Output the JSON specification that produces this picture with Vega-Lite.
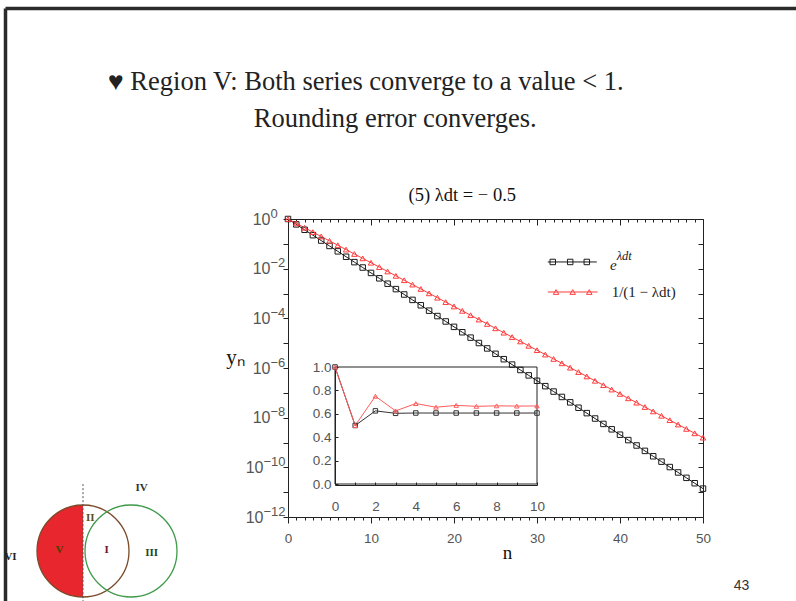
{
  "$schema": "https://vega.github.io/schema/vega-lite/v6.json",
  "width": 415,
  "height": 298,
  "autosize": {"type": "none"},
  "padding": {"left": 288, "top": 219, "right": 93, "bottom": 84},
  "background": "white",
  "config": {
    "view": {"stroke": null},
    "axis": {"grid": false, "labelFont": "Liberation Sans", "labelColor": "#555", "labelFontSize": 13.5, "domainColor": "#222", "tickColor": "#222", "domainWidth": 1, "tickWidth": 1}
  },
  "title": {
    "text": "♥ Region V: Both series converge to a value < 1.",
    "subtitle": "\u200b\u00a0\u00a0\u00a0\u00a0\u00a0\u00a0\u00a0\u00a0\u00a0\u00a0\u00a0\u00a0\u00a0\u00a0\u00a0\u00a0\u00a0\u00a0\u00a0\u00a0\u00a0\u00a0Rounding error converges.",
    "anchor": "start",
    "frame": "group",
    "dx": -180,
    "offset": -127,
    "font": "Liberation Serif",
    "fontSize": 26.5,
    "fontWeight": "normal",
    "color": "#222",
    "subtitleFont": "Liberation Serif",
    "subtitleFontSize": 26.5,
    "subtitleColor": "#222",
    "subtitlePadding": 10
  },
  "datasets": {
    "main": [
      {"n":0,"s":"exp","y":1},{"n":1,"s":"exp","y":0.60653},{"n":2,"s":"exp","y":0.36788},{"n":3,"s":"exp","y":0.22313},{"n":4,"s":"exp","y":0.13534},
      {"n":5,"s":"exp","y":0.082085},{"n":6,"s":"exp","y":0.049787},{"n":7,"s":"exp","y":0.030197},{"n":8,"s":"exp","y":0.018316},{"n":9,"s":"exp","y":0.011109},
      {"n":10,"s":"exp","y":0.0067379},{"n":11,"s":"exp","y":0.0040868},{"n":12,"s":"exp","y":0.0024788},{"n":13,"s":"exp","y":0.0015034},{"n":14,"s":"exp","y":0.00091188},
      {"n":15,"s":"exp","y":0.00055308},{"n":16,"s":"exp","y":0.00033546},{"n":17,"s":"exp","y":0.00020347},{"n":18,"s":"exp","y":0.00012341},{"n":19,"s":"exp","y":7.4852e-5},
      {"n":20,"s":"exp","y":4.54e-5},{"n":21,"s":"exp","y":2.7536e-5},{"n":22,"s":"exp","y":1.6702e-5},{"n":23,"s":"exp","y":1.013e-5},{"n":24,"s":"exp","y":6.1442e-6},
      {"n":25,"s":"exp","y":3.7267e-6},{"n":26,"s":"exp","y":2.2603e-6},{"n":27,"s":"exp","y":1.371e-6},{"n":28,"s":"exp","y":8.3153e-7},{"n":29,"s":"exp","y":5.0435e-7},
      {"n":30,"s":"exp","y":3.059e-7},{"n":31,"s":"exp","y":1.8554e-7},{"n":32,"s":"exp","y":1.1254e-7},{"n":33,"s":"exp","y":6.8256e-8},{"n":34,"s":"exp","y":4.1399e-8},
      {"n":35,"s":"exp","y":2.511e-8},{"n":36,"s":"exp","y":1.523e-8},{"n":37,"s":"exp","y":9.2374e-9},{"n":38,"s":"exp","y":5.6028e-9},{"n":39,"s":"exp","y":3.3983e-9},
      {"n":40,"s":"exp","y":2.0612e-9},{"n":41,"s":"exp","y":1.2502e-9},{"n":42,"s":"exp","y":7.5826e-10},{"n":43,"s":"exp","y":4.5991e-10},{"n":44,"s":"exp","y":2.7895e-10},
      {"n":45,"s":"exp","y":1.6919e-10},{"n":46,"s":"exp","y":1.0262e-10},{"n":47,"s":"exp","y":6.2241e-11},{"n":48,"s":"exp","y":3.7751e-11},{"n":49,"s":"exp","y":2.2897e-11},
      {"n":50,"s":"exp","y":1.3888e-11},
      {"n":0,"s":"imp","y":1},{"n":1,"s":"imp","y":0.66667},{"n":2,"s":"imp","y":0.44444},{"n":3,"s":"imp","y":0.2963},{"n":4,"s":"imp","y":0.19753},
      {"n":5,"s":"imp","y":0.13169},{"n":6,"s":"imp","y":0.087791},{"n":7,"s":"imp","y":0.058528},{"n":8,"s":"imp","y":0.039018},{"n":9,"s":"imp","y":0.026012},
      {"n":10,"s":"imp","y":0.017342},{"n":11,"s":"imp","y":0.011561},{"n":12,"s":"imp","y":0.0077073},{"n":13,"s":"imp","y":0.0051382},{"n":14,"s":"imp","y":0.0034255},
      {"n":15,"s":"imp","y":0.0022837},{"n":16,"s":"imp","y":0.0015224},{"n":17,"s":"imp","y":0.001015},{"n":18,"s":"imp","y":0.00067664},{"n":19,"s":"imp","y":0.00045109},
      {"n":20,"s":"imp","y":0.00030073},{"n":21,"s":"imp","y":0.00020049},{"n":22,"s":"imp","y":0.00013366},{"n":23,"s":"imp","y":8.9105e-5},{"n":24,"s":"imp","y":5.9403e-5},
      {"n":25,"s":"imp","y":3.9602e-5},{"n":26,"s":"imp","y":2.6401e-5},{"n":27,"s":"imp","y":1.7601e-5},{"n":28,"s":"imp","y":1.1734e-5},{"n":29,"s":"imp","y":7.8225e-6},
      {"n":30,"s":"imp","y":5.215e-6},{"n":31,"s":"imp","y":3.4767e-6},{"n":32,"s":"imp","y":2.3178e-6},{"n":33,"s":"imp","y":1.5452e-6},{"n":34,"s":"imp","y":1.0301e-6},
      {"n":35,"s":"imp","y":6.8676e-7},{"n":36,"s":"imp","y":4.5784e-7},{"n":37,"s":"imp","y":3.0523e-7},{"n":38,"s":"imp","y":2.0349e-7},{"n":39,"s":"imp","y":1.3566e-7},
      {"n":40,"s":"imp","y":9.0438e-8},{"n":41,"s":"imp","y":6.0292e-8},{"n":42,"s":"imp","y":4.0195e-8},{"n":43,"s":"imp","y":2.6797e-8},{"n":44,"s":"imp","y":1.7864e-8},
      {"n":45,"s":"imp","y":1.191e-8},{"n":46,"s":"imp","y":7.9397e-9},{"n":47,"s":"imp","y":5.2931e-9},{"n":48,"s":"imp","y":3.5288e-9},{"n":49,"s":"imp","y":2.3525e-9},
      {"n":50,"s":"imp","y":1.5683e-9}
    ],
    "inset": [
      {"n":0,"s":"exp","r":1},{"n":1,"s":"exp","r":0.5},{"n":2,"s":"exp","r":0.625},{"n":3,"s":"exp","r":0.604167},{"n":4,"s":"exp","r":0.606771},
      {"n":5,"s":"exp","r":0.60651},{"n":6,"s":"exp","r":0.606532},{"n":7,"s":"exp","r":0.606531},{"n":8,"s":"exp","r":0.606531},{"n":9,"s":"exp","r":0.606531},
      {"n":10,"s":"exp","r":0.606531},
      {"n":0,"s":"imp","r":1},{"n":1,"s":"imp","r":0.5},{"n":2,"s":"imp","r":0.75},{"n":3,"s":"imp","r":0.625},{"n":4,"s":"imp","r":0.6875},
      {"n":5,"s":"imp","r":0.65625},{"n":6,"s":"imp","r":0.671875},{"n":7,"s":"imp","r":0.664063},{"n":8,"s":"imp","r":0.667969},{"n":9,"s":"imp","r":0.666016},
      {"n":10,"s":"imp","r":0.666992}
    ],
    "regions": [
      {"t":"IV","re":1.22,"im":1.44},{"t":"II","re":0.15,"im":0.75},{"t":"V","re":-0.49,"im":0.02},
      {"t":"I","re":0.49,"im":0.02},{"t":"III","re":1.43,"im":-0.04},{"t":"VI","re":-1.51,"im":-0.13}
    ]
  },
  "resolve": {
    "scale": {"x": "independent", "y": "independent", "color": "independent", "shape": "independent", "size": "independent", "stroke": "independent"},
    "axis": {"x": "independent", "y": "independent"}
  },
  "layer": [
    {
      "data": {"values": [{"v": 0}, {"v": 1}]},
      "mark": {"type": "point", "opacity": 0},
      "encoding": {
        "x": {"field": "v", "type": "quantitative", "scale": {"domain": [0, 1], "range": [-283, 508], "nice": false, "zero": false},
          "axis": {"orient": "top", "offset": 211, "domainColor": "#2b2b2b", "domainWidth": 3.5, "ticks": false, "labels": false, "title": null}},
        "y": {"field": "v", "type": "quantitative", "scale": {"domain": [0, 1], "range": [-211, 382], "nice": false, "zero": false},
          "axis": {"orient": "left", "offset": 283, "domainColor": "#2b2b2b", "domainWidth": 3.5, "ticks": false, "labels": false,
            "title": "43", "titleAngle": 0, "titleX": 736, "titleY": 366, "titleFont": "Liberation Sans", "titleFontSize": 14, "titleFontWeight": "normal", "titleColor": "#333", "titleAlign": "center", "titleBaseline": "middle"}}
      }
    },
    {
      "layer": [
        {
          "data": {"values": [{"re": 0, "im": 0, "r": 1}]},
          "mark": {"type": "point", "shape": "M0,-1A1,1,0,0,0,0,1Z", "filled": true, "color": "#e8262d", "opacity": 1, "strokeWidth": 0},
          "encoding": {
            "x": {"field": "re", "type": "quantitative", "scale": {"domain": [0, 1], "range": [-205, -157], "nice": false, "zero": false}, "axis": null},
            "y": {"field": "im", "type": "quantitative", "scale": {"domain": [0, 1], "range": [332, 288], "nice": false, "zero": false}, "axis": null},
            "size": {"field": "r", "type": "quantitative", "scale": {"type": "pow", "exponent": 2, "domain": [0, 1], "range": [0, 8464]}, "legend": null}
          }
        },
        {
          "data": {"values": [{"re": 0, "im": 0, "r": 1, "c": "left"}, {"re": 1, "im": 0, "r": 1, "c": "right"}]},
          "mark": {"type": "point", "shape": "circle", "filled": false, "opacity": 1, "strokeWidth": 1.3},
          "encoding": {
            "x": {"field": "re", "type": "quantitative", "axis": null},
            "y": {"field": "im", "type": "quantitative", "axis": null},
            "size": {"field": "r", "type": "quantitative", "legend": null},
            "stroke": {"field": "c", "type": "nominal", "scale": {"domain": ["left", "right"], "range": ["#7a4a2a", "#3f9a4a"]}, "legend": null}
          }
        },
        {
          "data": {"values": [{}]},
          "mark": {"type": "rule", "color": "#555", "strokeWidth": 1, "strokeDash": [2, 2]},
          "encoding": {
            "x": {"datum": 0, "type": "quantitative", "axis": null},
            "y": {"datum": 1.52, "type": "quantitative", "axis": null},
            "y2": {"datum": -1.14}
          }
        },
        {
          "data": {"name": "regions"},
          "mark": {"type": "text", "font": "Liberation Serif", "fontSize": 11, "fontWeight": "bold", "align": "center", "baseline": "middle"},
          "encoding": {
            "x": {"field": "re", "type": "quantitative", "axis": null},
            "y": {"field": "im", "type": "quantitative", "axis": null},
            "text": {"field": "t"},
            "color": {"field": "t", "type": "nominal", "scale": {"domain": ["IV", "II", "V", "I", "III", "VI"], "range": ["#333333", "#5a5010", "#4a4000", "#6a1a2a", "#1a4a1a", "#222222"]}, "legend": null}
          }
        }
      ]
    },
    {
      "layer": [
        {
          "data": {"values": [{}]},
          "mark": {"type": "rect", "fillOpacity": 0, "stroke": "#222", "strokeWidth": 1},
          "encoding": {
            "x": {"datum": 0, "type": "quantitative", "scale": {"domain": [0, 10], "range": [47, 249], "nice": false, "zero": false},
              "axis": {"orient": "bottom", "offset": -32, "values": [0,1,2,3,4,5,6,7,8,9,10], "tickSize": -3, "labelExpr": "datum.value % 2 === 0 ? datum.label : ''", "labelPadding": 17, "labelOverlap": false, "labelFlush": false, "title": null}},
            "x2": {"datum": 10},
            "y": {"datum": 0, "type": "quantitative", "scale": {"domain": [0, 1], "range": [265, 148], "nice": false, "zero": false},
              "axis": {"orient": "left", "offset": -47, "values": [0,0.1,0.2,0.3,0.4,0.5,0.6,0.7,0.8,0.9,1], "tickSize": -3, "labelExpr": "round(datum.value*10) % 2 === 0 ? format(datum.value, '.1f') : ''", "labelPadding": 7, "labelOverlap": false, "labelFlush": false, "title": null}},
            "y2": {"datum": 1}
          }
        },
        {
          "data": {"name": "inset"},
          "mark": {"type": "line", "strokeWidth": 1},
          "encoding": {
            "x": {"field": "n", "type": "quantitative"},
            "y": {"field": "r", "type": "quantitative"},
            "color": {"field": "s", "type": "nominal", "scale": {"domain": ["exp", "imp"], "range": ["#333333", "#ff5c5c"]}, "legend": null}
          }
        },
        {
          "data": {"name": "inset"},
          "mark": {"type": "point", "filled": false, "size": 20, "strokeWidth": 1, "opacity": 1},
          "encoding": {
            "x": {"field": "n", "type": "quantitative"},
            "y": {"field": "r", "type": "quantitative"},
            "color": {"field": "s", "type": "nominal", "legend": null},
            "shape": {"field": "s", "type": "nominal", "scale": {"domain": ["exp", "imp"], "range": ["square", "triangle-up"]}, "legend": null}
          }
        }
      ]
    },
    {
      "resolve": {"axis": {"x": "independent", "y": "independent"}},
      "layer": [
        {
          "data": {"name": "main"},
          "mark": {"type": "line", "strokeWidth": 1},
          "encoding": {
            "x": {"field": "n", "type": "quantitative", "scale": {"domain": [0, 50], "nice": false, "zero": false},
              "axis": {"orient": "bottom", "values": [0,1,2,3,4,5,6,7,8,9,10,11,12,13,14,15,16,17,18,19,20,21,22,23,24,25,26,27,28,29,30,31,32,33,34,35,36,37,38,39,40,41,42,43,44,45,46,47,48,49,50],
                "tickSize": {"condition": {"test": "datum.value % 10 === 0", "value": 6}, "value": 3},
                "labelExpr": "datum.value % 10 === 0 ? datum.label : ''", "labelPadding": 8, "labelOverlap": false, "labelFlush": false,
                "title": "n", "titleFont": "Liberation Serif", "titleFontSize": 19, "titleFontWeight": "normal", "titleColor": "#111", "titleX": 219, "titleY": 41, "titleBaseline": "alphabetic", "titleAlign": "center"}},
            "y": {"field": "y", "type": "quantitative", "scale": {"type": "log", "domain": [1e-12, 1], "nice": false},
              "axis": {"orient": "left", "values": [1,0.1,0.01,0.001,0.0001,1e-5,1e-6,1e-7,1e-8,1e-9,1e-10,1e-11,1e-12], "tickSize": 5,
                "labelExpr": "round(-log(datum.value)/LN10) % 2 === 0 ? '10' : ''",
                "labelFontSize": 16,
                "labelPadding": {"condition": {"test": "datum.value < 5e-10", "value": 20}, "value": 13},
                "labelOverlap": false, "labelFlush": false,
                "title": "yₙ", "titleAngle": 0, "titleX": -53, "titleY": 138, "titleFont": "Liberation Serif", "titleFontSize": 21, "titleFontWeight": "normal", "titleColor": "#111", "titleAlign": "center", "titleBaseline": "middle"}},
            "color": {"field": "s", "type": "nominal", "scale": {"domain": ["exp", "imp"], "range": ["#1a1a1a", "#ff3d3d"]}, "legend": null}
          }
        },
        {
          "data": {"name": "main"},
          "mark": {"type": "point", "filled": false, "size": 30, "strokeWidth": 1, "opacity": 1},
          "encoding": {
            "x": {"field": "n", "type": "quantitative",
              "axis": {"orient": "top", "values": [0,1,2,3,4,5,6,7,8,9,10,11,12,13,14,15,16,17,18,19,20,21,22,23,24,25,26,27,28,29,30,31,32,33,34,35,36,37,38,39,40,41,42,43,44,45,46,47,48,49,50],
                "tickSize": {"condition": {"test": "datum.value % 10 === 0", "value": -6}, "value": -3}, "labels": false, "title": null}},
            "y": {"field": "y", "type": "quantitative",
              "axis": {"orient": "right", "values": [1,0.1,0.01,0.001,0.0001,1e-5,1e-6,1e-7,1e-8,1e-9,1e-10,1e-11,1e-12], "tickSize": -5, "labels": false, "title": null}},
            "color": {"field": "s", "type": "nominal", "legend": null},
            "shape": {"field": "s", "type": "nominal", "scale": {"domain": ["exp", "imp"], "range": ["square", "triangle-up"]}, "legend": null}
          }
        },
        {
          "data": {"values": [{}]},
          "mark": {"type": "rule", "color": "#1a1a1a", "strokeWidth": 1},
          "encoding": {
            "x": {"datum": 31.3, "type": "quantitative", "axis": null},
            "x2": {"datum": 37.2},
            "y": {"datum": 0.01862, "type": "quantitative",
              "axis": {"orient": "left", "values": [1,0.1,0.01,0.001,0.0001,1e-5,1e-6,1e-7,1e-8,1e-9,1e-10,1e-11,1e-12], "ticks": false, "domain": false,
                "labelExpr": "round(-log(datum.value)/LN10) == 0 ? '0' : round(-log(datum.value)/LN10) == 2 ? '−2' : round(-log(datum.value)/LN10) == 4 ? '−4' : round(-log(datum.value)/LN10) == 6 ? '−6' : round(-log(datum.value)/LN10) == 8 ? '−8' : round(-log(datum.value)/LN10) == 10 ? '−10' : round(-log(datum.value)/LN10) == 12 ? '−12' : ''",
                "labelFontSize": 13, "labelAlign": "left",
                "labelPadding": {"condition": {"test": "datum.value < 5e-10", "value": 25}, "value": 18},
                "labelOffset": -6, "labelOverlap": false, "labelFlush": false, "title": null}}
          }
        },
        {
          "data": {"values": [{"n": 31.9}, {"n": 34.0}, {"n": 36.0}]},
          "mark": {"type": "point", "shape": "square", "filled": false, "size": 30, "strokeWidth": 1, "color": "#1a1a1a", "opacity": 1},
          "encoding": {
            "x": {"field": "n", "type": "quantitative", "axis": null},
            "y": {"datum": 0.01862, "type": "quantitative", "axis": null}
          }
        },
        {
          "data": {"values": [{}]},
          "mark": {"type": "rule", "color": "#ff3d3d", "strokeWidth": 1},
          "encoding": {
            "x": {"datum": 31.3, "type": "quantitative", "axis": null},
            "x2": {"datum": 37.3},
            "y": {"datum": 0.00115, "type": "quantitative", "axis": null}
          }
        },
        {
          "data": {"values": [{"n": 32.3}, {"n": 34.3}, {"n": 36.3}]},
          "mark": {"type": "point", "shape": "triangle-up", "filled": false, "size": 30, "strokeWidth": 1, "color": "#ff3d3d", "opacity": 1},
          "encoding": {
            "x": {"field": "n", "type": "quantitative", "axis": null},
            "y": {"datum": 0.00115, "type": "quantitative", "axis": null}
          }
        },
        {
          "data": {"values": [{}]},
          "mark": {"type": "text", "text": "e", "font": "Liberation Serif", "fontStyle": "italic", "fontSize": 15, "align": "left", "baseline": "middle", "color": "#222"},
          "encoding": {
            "x": {"datum": 38.8, "type": "quantitative", "axis": null},
            "y": {"datum": 0.0141, "type": "quantitative", "axis": null}
          }
        },
        {
          "data": {"values": [{}]},
          "mark": {"type": "text", "text": "λdt", "font": "Liberation Serif", "fontStyle": "italic", "fontSize": 12.5, "align": "left", "baseline": "middle", "color": "#222"},
          "encoding": {
            "x": {"datum": 39.6, "type": "quantitative", "axis": null},
            "y": {"datum": 0.031, "type": "quantitative", "axis": null}
          }
        },
        {
          "data": {"values": [{}]},
          "mark": {"type": "text", "text": "1/(1 − λdt)", "font": "Liberation Serif", "fontSize": 15, "align": "left", "baseline": "middle", "color": "#222"},
          "encoding": {
            "x": {"datum": 39.0, "type": "quantitative", "axis": null},
            "y": {"datum": 0.00112, "type": "quantitative", "axis": null}
          }
        },
        {
          "data": {"values": [{}]},
          "mark": {"type": "text", "text": "(5) λdt = − 0.5", "font": "Liberation Serif", "fontSize": 18.5, "align": "center", "baseline": "middle", "color": "#111"},
          "encoding": {
            "x": {"datum": 21, "type": "quantitative", "axis": null},
            "y": {"datum": 9.27, "type": "quantitative", "axis": null}
          }
        }
      ]
    }
  ]
}
